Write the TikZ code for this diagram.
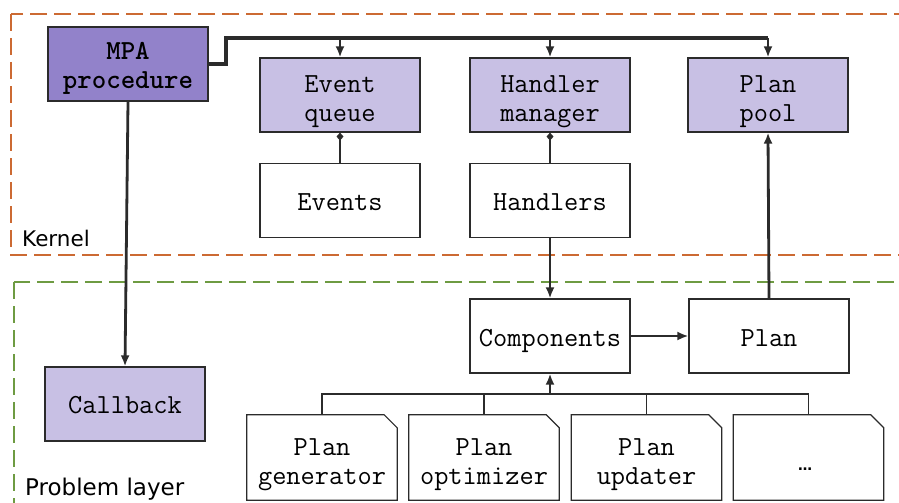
\documentclass[tikz,border=0pt]{standalone}
\usepackage{fontspec}
\setsansfont{DejaVu Sans}
\usetikzlibrary{arrows.meta}
\definecolor{kerncol}{HTML}{CC6A33}
\definecolor{probcol}{HTML}{6E9B42}
\definecolor{mpadark}{HTML}{9282CA}
\definecolor{mpalight}{HTML}{C8C0E4}
\definecolor{linecol}{HTML}{2B2B2B}
\newcommand{\boxtext}[2][6pt]{\raisebox{-#1}[\height][\depth]{\begin{tabular}{@{}c@{}}#2\end{tabular}}}
\begin{document}
\begin{tikzpicture}[x=1pt,y=-1pt,
  basebox/.style={draw=linecol, line width=1.2pt, minimum width=160pt, minimum height=74pt,
    inner sep=0pt, align=center, font=\fontsize{27.6}{29}\selectfont\ttfamily},
  darkbox/.style={basebox, fill=mpadark, font=\fontsize{27.6}{29}\selectfont\ttfamily\bfseries},
  lightbox/.style={basebox, fill=mpalight},
  whitebox/.style={basebox, fill=white},
  docbox/.style={draw=none, minimum width=150pt, minimum height=85pt, inner sep=0pt,
    align=center, font=\fontsize{27.6}{29}\selectfont\ttfamily},
  docline/.style={draw=linecol, line width=1.2pt},
  buslink/.style={draw=linecol, line width=3.4pt},
  arr/.style={draw=linecol, line width=2.8pt, -{Latex[length=11pt,width=9pt]}},
  dia/.style={draw=linecol, line width=2.8pt, -{Diamond[length=8pt,width=7pt]}},
  thinlink/.style={draw=linecol, line width=1.5pt},
  layerlabel/.style={anchor=base west, inner sep=0pt, font=\sffamily}
]
\useasboundingbox (0,0) rectangle (899,503);
\clip (0,0) rectangle (899,503);

% layers
\draw[kerncol, line width=2.6pt, dash pattern=on 17pt off 7pt] (11,14) rectangle (940,255);
\draw[probcol, line width=2.4pt, dash pattern=on 17pt off 7pt] (14,282) rectangle (940,540);
\node[layerlabel, font=\sffamily\fontsize{21.5}{24}\selectfont] (kl) at (22,246) {Kernel};
\node[layerlabel, font=\sffamily\fontsize{23}{26}\selectfont] (pl) at (25,495) {Problem layer};

% nodes
\node[darkbox] (mpa) at (128,64) {\boxtext[4pt]{MPA\\procedure}};
\node[lightbox] (eq) at (340,95) {\boxtext{Event\\queue}};
\node[whitebox] (ev) at (340,200.5) {\boxtext[4pt]{Events}};
\node[lightbox] (hm) at (550,95) {\boxtext{Handler\\manager}};
\node[whitebox] (hd) at (550,200.5) {\boxtext[4pt]{Handlers}};
\node[lightbox] (pp) at (768,95) {\boxtext{Plan\\pool}};
\node[whitebox] (comp) at (550,336) {\boxtext[5pt]{Components}};
\node[whitebox] (plan) at (769,336) {\boxtext[5pt]{Plan}};
\node[lightbox] (cb) at (125,404) {\boxtext[4pt]{Callback}};

\node[docbox] (gen) at (322,457.5) {\boxtext[7pt]{Plan\\generator}};
\node[docbox] (opt) at (484,457.5) {\boxtext[7pt]{Plan\\optimizer}};
\node[docbox] (upd) at (646.5,457.5) {\boxtext[7pt]{Plan\\updater}};
\node[docbox] (dots) at (808.5,457.5) {};
\node[inner sep=0pt, font=\fontsize{14}{14}\selectfont\sffamily\bfseries] (dotstext) at (805,469) {…};

\foreach \n in {gen,opt,upd,dots}{
  \draw[docline] (\n.south west) -- (\n.north west) -- ([xshift=-13pt]\n.north east)
    -- ([yshift=-13pt]\n.north east) -- (\n.south east) -- cycle;
}

% top bus
\coordinate (b0) at (226,38);
\draw[buslink] (mpa.east) -| (b0) -- (pp.north |- b0);
\draw[arr] (eq.north |- b0) -- (eq.north);
\draw[arr] (hm.north |- b0) -- (hm.north);
\draw[arr] (pp.north |- b0) -- (pp.north);

% aggregation links
\draw[dia] (ev.north) -- (eq.south);
\draw[dia] (hd.north) -- (hm.south);

% other links
\draw[arr] (hd.south) -- (comp.north);
\draw[arr] (comp.east) -- (plan.west);
\draw[arr] (plan.north) -- (pp.south);
\draw[arr] (mpa.south) -- (cb.north);

% bottom bus
\coordinate (bb) at (550,394);
\draw[thinlink] (gen.north) -- (gen.north |- bb) -- (dots.north |- bb) -- (dots.north);
\draw[thinlink] (opt.north) -- (opt.north |- bb);
\draw[thinlink] (upd.north) -- (upd.north |- bb);
\draw[arr] (comp.south |- bb) -- (comp.south);
\end{tikzpicture}
\end{document}
